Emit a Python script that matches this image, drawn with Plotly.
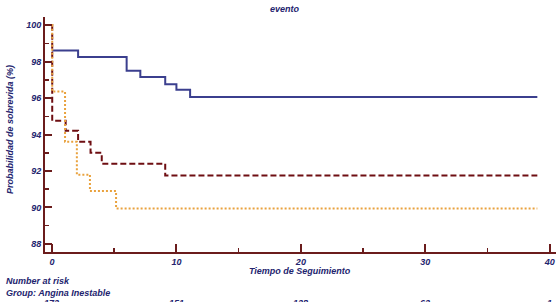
import plotly.graph_objects as go

# Kaplan-Meier step data (time, survival %)
t_blue = [0, 2.1, 6.0, 7.1, 9.1, 10.0, 11.1, 39.0]
s_blue = [98.6, 98.25, 97.5, 97.15, 96.75, 96.45, 96.05, 96.05]

t_maroon = [0, 0.02, 1.1, 2.1, 3.1, 4.0, 9.1, 39.0]
s_maroon = [100, 94.75, 94.2, 93.6, 93.0, 92.4, 91.75, 91.75]

t_orange = [0, 0.02, 1.05, 2.0, 3.05, 5.15, 39.0]
s_orange = [100, 96.35, 93.6, 91.8, 90.9, 89.95, 89.95]

risk_times = [0, 10, 20, 30, 40]
risk_counts = ["172", "151", "128", "62", "1"]

title_text = "evento"
x_title = "Tiempo de Seguimiento"
y_title = "Probabilidad de sobrevida (%)"

AXIS = "#6B1C1C"
NAVY = "#23246E"
FONT = "Liberation Sans"

W, H = 560, 302
L, R, T, B = 45, 4, 17, 50
PW, PH = W - L - R, H - T - B


def px_x(px):
    return (px - L) / PW


def px_y(py):
    return (H - B - py) / PH


fig = go.Figure()
fig.add_trace(go.Scatter(x=t_blue, y=s_blue, mode="lines", line=dict(color="#3B3F8E", width=2, shape="hv"), showlegend=False, hoverinfo="skip"))
fig.add_trace(go.Scatter(x=t_maroon, y=s_maroon, mode="lines", line=dict(color="#6E0E12", width=2, dash="6px,3px", shape="hv"), showlegend=False, hoverinfo="skip"))
fig.add_trace(go.Scatter(x=t_orange, y=s_orange, mode="lines", line=dict(color="#E9A23E", width=2, dash="2px,2px", shape="hv"), showlegend=False, hoverinfo="skip"))

tickfont = dict(family=FONT, size=9, color=NAVY, style="italic", weight="bold")

fig.update_xaxes(
    range=[-0.56, 40.5], showgrid=False, zeroline=False,
    showline=True, linecolor=AXIS, linewidth=2,
    ticks="inside", ticklen=8, tickwidth=2, tickcolor=AXIS,
    tick0=0, dtick=10, tickfont=tickfont,
    minor=dict(ticks="inside", ticklen=4, tickwidth=1.5, tickcolor=AXIS, dtick=5, tick0=0, showgrid=False),
)
fig.update_yaxes(
    range=[87.56, 100.44], showgrid=False, zeroline=False,
    showline=True, linecolor=AXIS, linewidth=2,
    ticks="inside", ticklen=7, tickwidth=2, tickcolor=AXIS,
    tick0=88, dtick=2, tickfont=tickfont,
    minor=dict(ticks="inside", ticklen=4, tickwidth=1.5, tickcolor=AXIS, dtick=1, tick0=88, showgrid=False),
)

ann = []
lblfont = dict(family=FONT, size=9, color=NAVY, style="italic", weight="bold")


def add(text, px, py, xanchor="center", yanchor="middle", angle=0, xref="paper", xval=None):
    ann.append(dict(text=text, x=px_x(px) if xval is None else xval, y=px_y(py), xref=xref, yref="paper",
                    xanchor=xanchor, yanchor=yanchor, textangle=angle, showarrow=False, font=lblfont))


add(title_text, 285, 9)
add(x_title, 300, 271)
add(y_title, 10, 130, angle=-90)
add("Number at risk", 4, 281, xanchor="left")
add("Group: Angina Inestable", 4, 293, xanchor="left")
for tx, c in zip(risk_times, risk_counts):
    add(c, 0, 296, yanchor="top", xref="x", xval=tx)

fig.update_layout(
    width=W, height=H,
    margin=dict(l=L, r=R, t=T, b=B, pad=0),
    paper_bgcolor="white", plot_bgcolor="white",
    annotations=ann,
    hovermode=False,
)

fig.write_html("out.html", config={"displayModeBar": False, "staticPlot": True})

# remove the default browser body margin so the figure fills the window exactly
with open("out.html", "r", encoding="utf-8") as f:
    html = f.read()
html = html.replace("<body>", '<body style="margin:0;padding:0;overflow:hidden">', 1)
with open("out.html", "w", encoding="utf-8") as f:
    f.write(html)
